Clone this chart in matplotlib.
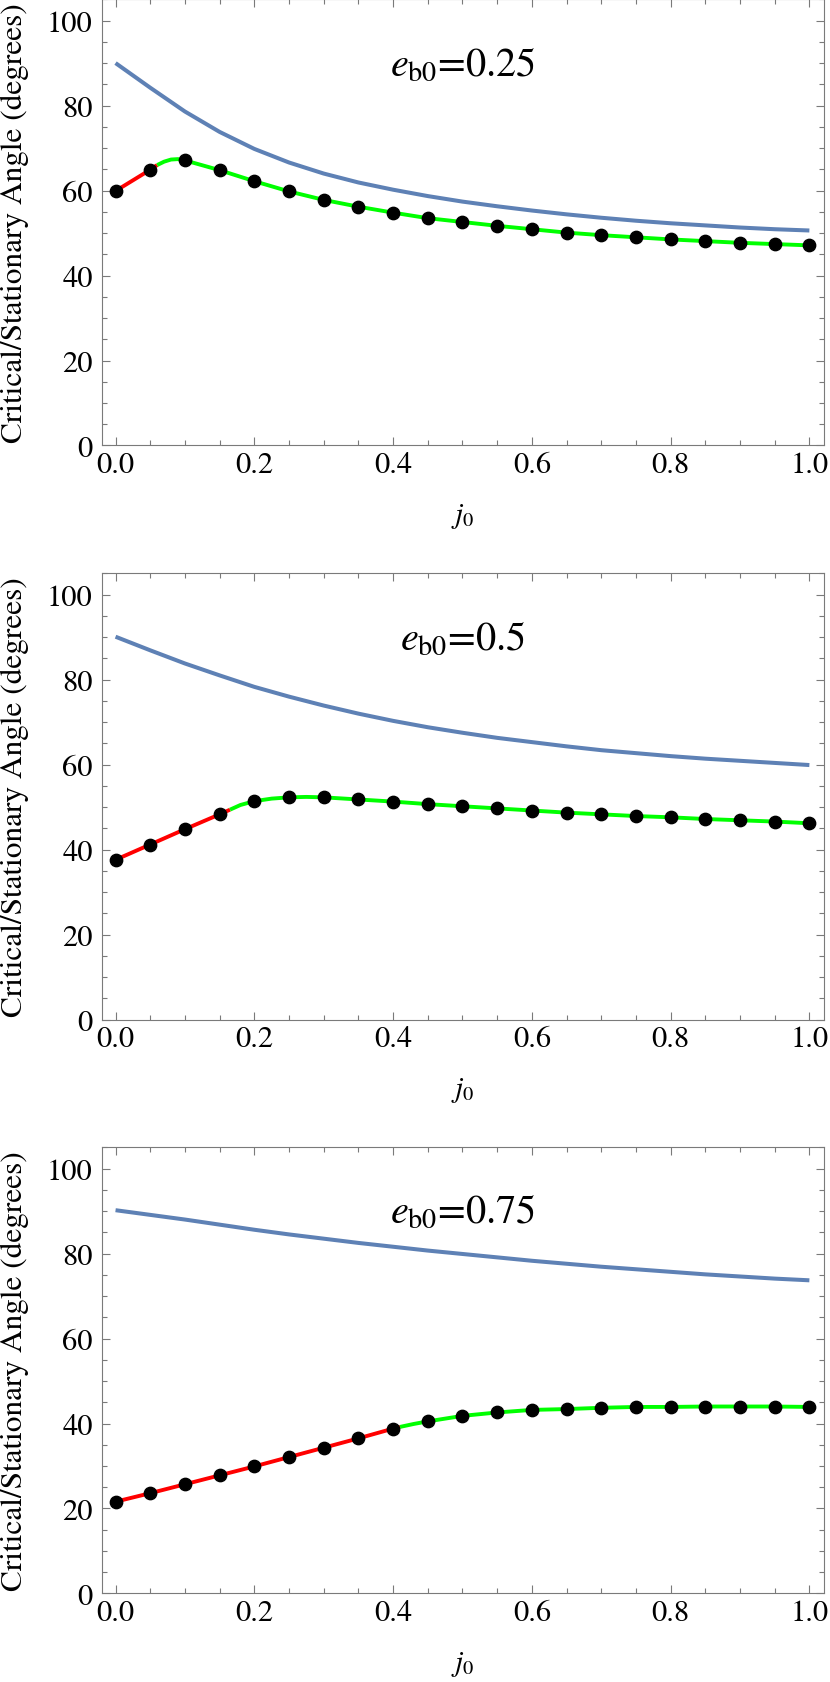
import matplotlib
matplotlib.use('Agg')
import matplotlib.pyplot as plt
from matplotlib.ticker import MultipleLocator

plt.rcParams['font.family'] = ['STIXGeneral', 'DejaVu Serif']
plt.rcParams['mathtext.fontset'] = 'stix'

# eccentricity of each panel
ecc_labels = ['0.25', '0.5', '0.75']

# sampled j0 values (dots)
j_dots = [0.0, 0.05, 0.1, 0.15, 0.2, 0.25, 0.3, 0.35, 0.4, 0.45, 0.5,
          0.55, 0.6, 0.65, 0.7, 0.75, 0.8, 0.85, 0.9, 0.95, 1.0]

# black dots: stationary angle
dots_025 = [59.9, 64.9, 67.1, 64.8, 62.2, 59.8, 57.8, 56.2, 54.8, 53.5, 52.6,
            51.7, 50.9, 50.1, 49.5, 49.0, 48.5, 48.1, 47.7, 47.4, 47.1]
dots_050 = [37.6, 41.2, 44.8, 48.3, 51.4, 52.3, 52.3, 51.8, 51.3, 50.7, 50.2,
            49.7, 49.2, 48.7, 48.3, 47.9, 47.6, 47.2, 46.9, 46.6, 46.2]
dots_075 = [21.6, 23.6, 25.7, 27.8, 29.9, 32.1, 34.3, 36.5, 38.8, 40.5, 41.8,
            42.6, 43.2, 43.4, 43.7, 43.9, 43.9, 44.0, 44.0, 44.0, 43.9]

# blue curve: critical angle
blue_j = j_dots
blue_025 = [90.0, 84.2, 78.6, 73.8, 69.8, 66.6, 64.0, 61.9, 60.2, 58.7, 57.4,
            56.3, 55.3, 54.4, 53.6, 52.9, 52.3, 51.8, 51.3, 50.9, 50.6]
blue_050 = [90.1, 86.9, 83.8, 81.0, 78.3, 76.0, 73.9, 72.0, 70.3, 68.8, 67.5,
            66.3, 65.3, 64.3, 63.4, 62.7, 62.0, 61.4, 60.9, 60.4, 59.9]
blue_075 = [90.2, 89.1, 88.0, 86.8, 85.6, 84.5, 83.5, 82.5, 81.6, 80.7, 79.9,
            79.1, 78.3, 77.6, 76.9, 76.3, 75.7, 75.1, 74.6, 74.1, 73.7]

# red part of the stationary curve
red_j_025 = [0.0, 0.05, 0.06]
red_025 = [59.9, 64.9, 66.0]
red_j_050 = [0.0, 0.05, 0.1, 0.15, 0.165]
red_050 = [37.6, 41.2, 44.8, 48.3, 49.4]
red_j_075 = [0.0, 0.05, 0.1, 0.15, 0.2, 0.25, 0.3, 0.35, 0.4, 0.41]
red_075 = [21.6, 23.6, 25.7, 27.8, 29.9, 32.1, 34.3, 36.5, 38.8, 39.2]

# green part of the stationary curve
green_j_025 = [0.06, 0.07, 0.08, 0.09, 0.1, 0.15, 0.2, 0.25, 0.3, 0.35, 0.4,
               0.45, 0.5, 0.55, 0.6, 0.65, 0.7, 0.75, 0.8, 0.85, 0.9, 0.95, 1.0]
green_025 = [66.0, 66.8, 67.3, 67.4, 67.1, 64.8, 62.2, 59.8, 57.8, 56.2, 54.8,
             53.5, 52.6, 51.7, 50.9, 50.1, 49.5, 49.0, 48.5, 48.1, 47.7, 47.4, 47.1]
green_j_050 = [0.165, 0.18, 0.2, 0.225, 0.25, 0.275, 0.3, 0.35, 0.4, 0.45, 0.5,
               0.55, 0.6, 0.65, 0.7, 0.75, 0.8, 0.85, 0.9, 0.95, 1.0]
green_050 = [49.4, 50.5, 51.4, 52.0, 52.3, 52.4, 52.3, 51.8, 51.3, 50.7, 50.2,
             49.7, 49.2, 48.7, 48.3, 47.9, 47.6, 47.2, 46.9, 46.6, 46.2]
green_j_075 = [0.41, 0.43, 0.45, 0.5, 0.55, 0.6, 0.65, 0.7, 0.75, 0.8, 0.85,
               0.9, 0.95, 1.0]
green_075 = [39.2, 39.9, 40.5, 41.8, 42.6, 43.2, 43.4, 43.7, 43.9, 43.9, 44.0,
             44.0, 44.0, 43.9]

panels = [
    (ecc_labels[0], dots_025, blue_025, red_j_025, red_025, green_j_025, green_025),
    (ecc_labels[1], dots_050, blue_050, red_j_050, red_050, green_j_050, green_050),
    (ecc_labels[2], dots_075, blue_075, red_j_075, red_075, green_j_075, green_075),
]

fig = plt.figure(figsize=(8.3, 16.83), dpi=100)
bottoms = [0.7347, 0.3936, 0.0526]
frame_col = '#7a7a7a'

for (lab, dots, blue, rj, rv, gj, gv), b in zip(panels, bottoms):
    ax = fig.add_axes([0.1225, b, 0.8702, 0.2651])
    ax.plot(blue_j, blue, color='#5E81B5', lw=2.9, solid_capstyle='butt',
            solid_joinstyle='round')
    ax.plot(rj, rv, color='#FF0000', lw=2.8, solid_capstyle='butt')
    ax.plot(gj, gv, color='#00FF00', lw=2.8, solid_capstyle='butt',
            solid_joinstyle='round')
    ax.plot(j_dots, dots, 'o', color='black', ms=8.9, ls='none')

    ax.set_xlim(-0.02, 1.021)
    ax.set_ylim(0, 105)
    ax.xaxis.set_major_locator(MultipleLocator(0.2))
    ax.xaxis.set_minor_locator(MultipleLocator(0.05))
    ax.yaxis.set_major_locator(MultipleLocator(20))
    ax.yaxis.set_minor_locator(MultipleLocator(5))
    ax.set_xticks([0.0, 0.2, 0.4, 0.6, 0.8, 1.0])
    ax.set_xticklabels(['0.0', '0.2', '0.4', '0.6', '0.8', '1.0'])
    ax.tick_params(which='both', direction='in', top=True, right=True,
                   color=frame_col, width=0.8, labelsize=22)
    ax.tick_params(which='major', length=6)
    ax.tick_params(which='minor', length=3.4)
    ax.tick_params(axis='y', pad=6.5)
    ax.tick_params(axis='x', pad=4)
    for sp in ax.spines.values():
        sp.set_color(frame_col)
        sp.set_linewidth(0.8)

    ax.text(0.5, 87.4, r'$e_{\mathrm{b0}}$=' + lab, fontsize=29,
            ha='center', va='baseline')

    ax.set_ylabel('Critical/Stationary Angle (degrees)', fontsize=22.5)
    ax.yaxis.set_label_coords(-0.1, 0.5)
    ax.set_xlabel(r'$j_0$', fontsize=21)
    ax.xaxis.set_label_coords(0.5, -0.125)

plt.savefig('out.png', dpi=100)
